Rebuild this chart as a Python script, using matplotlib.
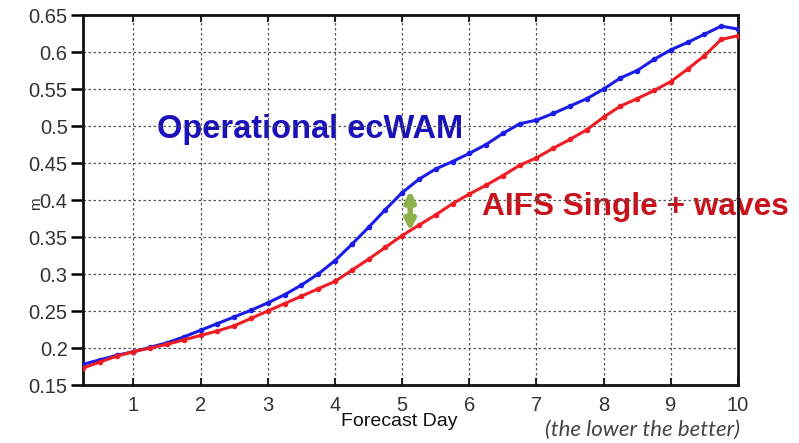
# Wave height error: operational ecWAM vs AIFS Single + waves

import numpy as np
import matplotlib.pyplot as plt

# forecast days (6-hourly steps)
days = [0.25, 0.5, 0.75, 1.0, 1.25, 1.5, 1.75, 2.0, 2.25, 2.5,
        2.75, 3.0, 3.25, 3.5, 3.75, 4.0, 4.25, 4.5, 4.75, 5.0,
        5.25, 5.5, 5.75, 6.0, 6.25, 6.5, 6.75, 7.0, 7.25, 7.5,
        7.75, 8.0, 8.25, 8.5, 8.75, 9.0, 9.25, 9.5, 9.75, 10.0]

# operational ecWAM (blue)
ecwam = [0.178, 0.184, 0.190, 0.195, 0.201, 0.207, 0.215, 0.224, 0.233, 0.242,
         0.251, 0.261, 0.272, 0.285, 0.300, 0.318, 0.340, 0.363, 0.387, 0.410,
         0.428, 0.442, 0.452, 0.463, 0.475, 0.490, 0.503, 0.508, 0.517, 0.527,
         0.537, 0.550, 0.565, 0.575, 0.590, 0.603, 0.613, 0.624, 0.635, 0.631]

# AIFS Single + waves (red)
aifs = [0.173, 0.181, 0.189, 0.195, 0.200, 0.205, 0.211, 0.217, 0.223, 0.230,
        0.240, 0.250, 0.260, 0.270, 0.280, 0.290, 0.305, 0.320, 0.336, 0.352,
        0.366, 0.380, 0.395, 0.408, 0.420, 0.433, 0.447, 0.457, 0.470, 0.482,
        0.495, 0.512, 0.527, 0.537, 0.548, 0.560, 0.577, 0.595, 0.617, 0.622]

yticks = [0.15, 0.2, 0.25, 0.3, 0.35, 0.4, 0.45, 0.5, 0.55, 0.6, 0.65]
ytick_labels = ['0.15', '0.2', '0.25', '0.3', '0.35', '0.4', '0.45', '0.5', '0.55', '0.6', '0.65']
xticks = [1, 2, 3, 4, 5, 6, 7, 8, 9, 10]

plt.rcParams['font.family'] = ['Liberation Sans', 'DejaVu Sans']

fig = plt.figure(figsize=(7.99, 4.43), dpi=100)
ax = fig.add_axes([0.1039, 0.1309, 0.8198, 0.8352])

ax.plot(days, ecwam, color='#1c1ce8', lw=2.2, marker='o', ms=3, zorder=3)
ax.plot(days, aifs, color='#f01c24', lw=2.2, marker='o', ms=3, zorder=4)

ax.set_xlim(0.25, 10)
ax.set_ylim(0.15, 0.65)
ax.set_xticks(xticks)
ax.set_yticks(yticks)
ax.set_yticklabels(ytick_labels)
ax.grid(True, ls=(0, (2, 2)), color='#555555', lw=0.9)

for s in ax.spines.values():
    s.set_linewidth(2)
    s.set_color('#111111')

ax.tick_params(axis='y', direction='out', length=9, width=1.8, labelsize=14.5,
               labelcolor='#333333', pad=2)
ax.tick_params(axis='x', direction='in', length=5, width=1.2, labelsize=14.5,
               labelcolor='#333333', top=True, pad=8)

# double arrow between the two curves
i5 = days.index(5.0)
ax.annotate('', xy=(5.12, ecwam[i5] + 0.003), xytext=(5.12, aifs[i5] + 0.006),
            arrowprops=dict(arrowstyle='<|-|>', color='#8db14c', lw=4,
                            mutation_scale=15, shrinkA=0, shrinkB=0), zorder=5)

ax.text(1.35, 0.4838, 'Operational ecWAM', color='#1a12b8', fontsize=23.5,
        fontweight='bold', va='baseline', zorder=1)
ax.text(6.19, 0.3797, 'AIFS Single + waves', color='#c8121c', fontsize=22.8,
        fontweight='bold', va='baseline', clip_on=False, zorder=1)

fig.text(0.045, 0.54, 'm', rotation=90, fontsize=11, color='#333333',
         va='center', ha='center')
fig.text(0.50, 0.049, 'Forecast Day', fontsize=14, color='#111111',
         ha='center', va='center')
fig.text(0.682, 0.029, '(the lower the better)', fontsize=16, color='#444444',
         style='italic', va='center', family=['Lato', 'DejaVu Sans'])

fig.savefig('out.png', dpi=100)
